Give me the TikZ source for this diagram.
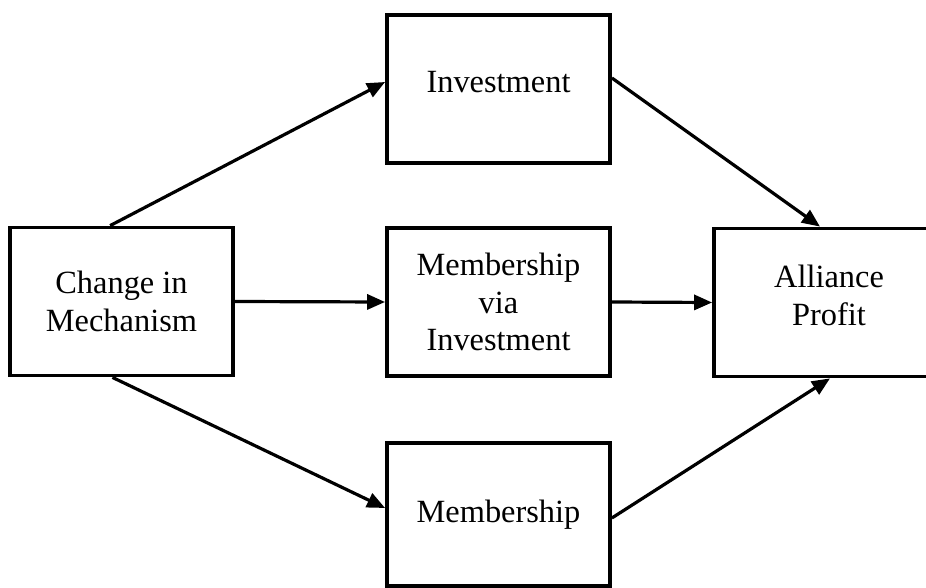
\documentclass[tikz,border=0pt]{standalone}
\usepackage{fontspec}
\setmainfont{Liberation Serif}
\usetikzlibrary{arrows.meta,calc}
\tikzset{
  block/.style={draw, line width=1.9pt, rectangle, align=center,
    minimum width=111.5pt, minimum height=74pt, inner sep=0pt,
    font=\fontsize{16.2}{18.9}\selectfont},
  flow/.style={line width=1.6pt, -{Triangle[length=9pt,width=7.5pt]}}
}
\begin{document}
\begin{tikzpicture}[x=0.5pt,y=-0.5pt]
\useasboundingbox (0,0) rectangle (926,588);
\clip (0,0) rectangle (926,588);
\node [block] (change) at (121.5,301.5) {Change in\\Mechanism};
\node [block, text depth=7pt] (invest) at (498.5,89) {Investment};
\node [block] (viainv) at (498.5,302) {Membership\\via\\Investment};
\node [block, minimum height=71.5pt] (member) at (498.5,514.5) {Membership};
\node [block, minimum width=115pt, text depth=7pt] (profit) at (829,302.5) {Alliance\\Profit};
\draw [flow] ($(change.north west)!0.45!(change.north east)$) -- ($(invest.west)+(0,-7)$);
\draw [flow] (change.east) -- (viainv.west);
\draw [flow] ($(change.south west)!0.46!(change.south east)$) -- ($(member.west)+(0,-6.5)$);
\draw [flow] ($(invest.east)+(0,-11)$) -- ($(profit.north)+(-9,0)$);
\draw [flow] (viainv.east) -- (profit.west);
\draw [flow] ($(member.east)+(0,3.5)$) -- ($(profit.south)+(1,0)$);
\end{tikzpicture}
\end{document}
